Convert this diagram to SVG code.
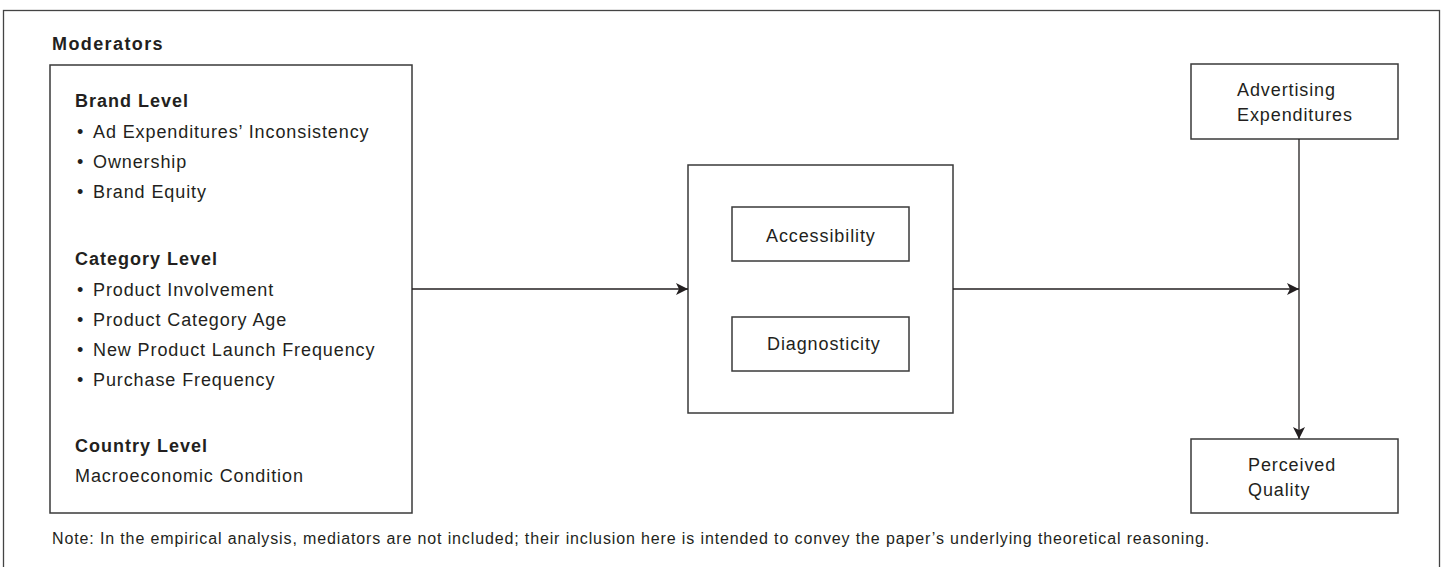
<svg xmlns="http://www.w3.org/2000/svg" width="1448" height="567" viewBox="0 0 1448 567">
<defs>
<style>
.box{fill:#fff;stroke:#3a3a3a;stroke-width:1.5}
.t{font-family:"Liberation Sans",Arial,sans-serif;font-size:18px;letter-spacing:0.9px;fill:#231f20}
.b{font-family:"Liberation Sans",Arial,sans-serif;font-size:18px;letter-spacing:1px;font-weight:bold;fill:#231f20}
.n{font-family:"Liberation Sans",Arial,sans-serif;font-size:16px;letter-spacing:0.87px;fill:#231f20}
.c{fill:none;stroke:#231f20;stroke-width:1.3}
</style>
<marker id="arr" viewBox="0 0 10 10" refX="10" refY="5" markerWidth="12" markerHeight="12" markerUnits="userSpaceOnUse" orient="auto">
<path d="M0,0 L10,5 L0,10 L2.5,5 Z" fill="#231f20"/>
</marker>
</defs>
<rect x="0" y="0" width="1448" height="567" fill="#fff"/>
<rect x="3.5" y="10.5" width="1436" height="570" fill="none" stroke="#444" stroke-width="1.3"/>
<text class="b" x="52" y="50" style="letter-spacing:1.4px">Moderators</text>
<g id="moderators">
<rect class="box" x="50" y="65" width="362" height="448"/>
<text class="b" x="75" y="107">Brand Level</text>
<text class="t" y="138"><tspan x="77">•</tspan><tspan x="93">Ad Expenditures’ Inconsistency</tspan></text>
<text class="t" y="168"><tspan x="77">•</tspan><tspan x="93">Ownership</tspan></text>
<text class="t" y="198"><tspan x="77">•</tspan><tspan x="93">Brand Equity</tspan></text>
<text class="b" x="75" y="265">Category Level</text>
<text class="t" y="296"><tspan x="77">•</tspan><tspan x="93">Product Involvement</tspan></text>
<text class="t" y="326"><tspan x="77">•</tspan><tspan x="93">Product Category Age</tspan></text>
<text class="t" y="356"><tspan x="77">•</tspan><tspan x="93">New Product Launch Frequency</tspan></text>
<text class="t" y="386"><tspan x="77">•</tspan><tspan x="93">Purchase Frequency</tspan></text>
<text class="b" x="75" y="452">Country Level</text>
<text class="t" x="75" y="482">Macroeconomic Condition</text>
</g>
<g id="mediators">
<rect class="box" x="688" y="165" width="265" height="248"/>
</g>
<g id="accessibility">
<rect class="box" x="732" y="207" width="177" height="54"/>
<text class="t" x="766" y="242">Accessibility</text>
</g>
<g id="diagnosticity">
<rect class="box" x="732" y="317" width="177" height="54"/>
<text class="t" x="767" y="350">Diagnosticity</text>
</g>
<g id="advertising">
<rect class="box" x="1191" y="64" width="207" height="75"/>
<text class="t" x="1237" y="96">Advertising</text>
<text class="t" x="1237" y="121">Expenditures</text>
</g>
<g id="quality">
<rect class="box" x="1191" y="439" width="207" height="74"/>
<text class="t" x="1248" y="471">Perceived</text>
<text class="t" x="1248" y="496">Quality</text>
</g>
<g id="connectors">
<line class="c" x1="412" y1="289" x2="688" y2="289" marker-end="url(#arr)"/>
<line class="c" x1="953" y1="289" x2="1299" y2="289" marker-end="url(#arr)"/>
<line class="c" x1="1299" y1="139" x2="1299" y2="439" marker-end="url(#arr)"/>
</g>
<text class="n" x="52" y="544">Note: In the empirical analysis, mediators are not included; their inclusion here is intended to convey the paper’s underlying theoretical reasoning.</text>
</svg>
